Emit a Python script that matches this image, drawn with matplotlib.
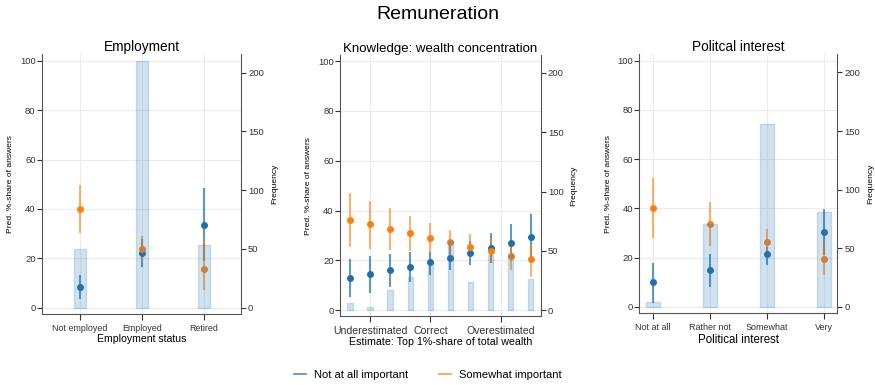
import matplotlib
matplotlib.use("Agg")
import matplotlib.pyplot as plt
from matplotlib.lines import Line2D
import numpy as np

plt.rcParams['font.family'] = ['Liberation Sans', 'DejaVu Sans']

BLUE = '#1f6fad'
ORANGE = '#ff7f0e'
BAR = '#2b7bba'

# --- Employment ---
emp_cats = ["Not employed", "Employed", "Retired"]
emp_freq = [50, 210, 53]
emp_blue = [8.4, 22.2, 33.6]
emp_blue_lo = [3.4, 16.4, 19.0]
emp_blue_hi = [13.2, 28.0, 48.6]
emp_orange = [40.1, 23.8, 15.8]
emp_orange_lo = [30.4, 18.8, 7.2]
emp_orange_hi = [49.9, 28.9, 28.1]

# --- Knowledge: wealth concentration ---
know_pos = [1, 2, 3, 4, 5, 6, 7, 8, 9, 10]
know_ticks = [2, 5, 8.5]
know_ticklabels = ["Underestimated", "Correct", "Overestimated"]
know_freq = [6.5, 3.1, 16.9, 27.8, 41.0, 58.4, 23.9, 46.9, 47.8, 26.7]
know_blue = [13.0, 14.5, 16.0, 17.4, 19.2, 21.1, 23.0, 25.0, 27.2, 29.5]
know_blue_lo = [5.4, 7.1, 9.3, 11.5, 14.0, 16.1, 18.2, 18.8, 20.0, 20.5]
know_blue_hi = [20.5, 21.6, 22.6, 23.5, 23.5, 26.5, 27.8, 30.9, 34.5, 38.6]
know_orange = [36.2, 34.6, 32.8, 30.9, 29.1, 27.4, 25.5, 23.8, 22.0, 20.4]
know_orange_lo = [25.5, 24.8, 24.4, 23.8, 23.1, 22.0, 20.8, 18.8, 16.1, 13.4]
know_orange_hi = [47.0, 44.0, 40.9, 38.0, 35.0, 32.4, 30.5, 28.9, 26.8, 26.8]

# --- Political interest ---
pol_cats = ["Not at all", "Rather not", "Somewhat", "Very"]
pol_freq = [3.7, 70.7, 155.8, 80.6]
pol_blue = [9.9, 14.9, 21.6, 30.3]
pol_blue_lo = [1.6, 8.1, 16.8, 21.0]
pol_blue_hi = [17.6, 21.4, 24.4, 39.6]
pol_orange = [40.0, 33.8, 26.5, 19.5]
pol_orange_lo = [27.8, 24.7, 21.7, 12.9]
pol_orange_hi = [52.5, 42.6, 31.5, 26.2]

fig = plt.figure(figsize=(8.75, 3.85), dpi=100)
fig.suptitle("Remuneration", fontsize=14, y=0.985)

SCALE = 2.1  # frequency units per percentage point


def panel(rect, x, freq, b, blo, bhi, o, olo, ohi, ylim, xlim, barw,
          title, xlabel, xticks, xticklabels, xtick_size, xlabel_size,
          title_size=9.8):
    ax = fig.add_axes(rect)
    ax.set_xlim(*xlim)
    ax.set_ylim(*ylim)
    ax.set_yticks([0, 20, 40, 60, 80, 100])
    ax.set_xticks(xticks)
    ax.set_xticklabels(xticklabels, fontsize=xtick_size)
    ax.tick_params(axis='y', labelsize=6.8, colors='#333333', length=3.6,
                   pad=1)
    ax.tick_params(axis='x', colors='#333333', length=4, pad=3)
    ax.grid(True, color='#ececec', linewidth=0.8)
    ax.set_axisbelow(True)
    for s in ['top', 'right']:
        ax.spines[s].set_visible(False)
    for s in ['left', 'bottom']:
        ax.spines[s].set_color('#555555')
    ax.set_ylabel("Pred. %-share of answers", fontsize=6.1, labelpad=4)
    ax.set_xlabel(xlabel, fontsize=xlabel_size, labelpad=1)
    ax.set_title(title, fontsize=title_size, pad=2)

    x = np.asarray(x, dtype=float)
    ax.vlines(x, blo, bhi, color=BLUE, lw=1.5, alpha=0.7, zorder=3)
    ax.plot(x, b, 'o', color=BLUE, ms=4, zorder=4)
    ax.vlines(x, olo, ohi, color=ORANGE, lw=1.5, alpha=0.6, zorder=3)
    ax.plot(x, o, 'o', color=ORANGE, ms=4, zorder=4)

    ax2 = ax.twinx()
    ax2.set_ylim(ylim[0] * SCALE, ylim[1] * SCALE)
    ax2.bar(x, freq, width=barw, color=BAR, alpha=0.22,
            edgecolor=(0.17, 0.48, 0.73, 0.35), linewidth=1)
    ax2.set_yticks([0, 50, 100, 150, 200])
    ax2.tick_params(axis='y', labelsize=6.8, colors='#333333', length=3.6,
                    pad=1.5)
    ax2.set_ylabel("Frequency", fontsize=6.1, labelpad=5)
    for s in ['top', 'left', 'bottom']:
        ax2.spines[s].set_visible(False)
    ax2.spines['right'].set_color('#555555')
    return ax


panel([0.048, 0.184, 0.2274, 0.676], [1, 2, 3], emp_freq,
      emp_blue, emp_blue_lo, emp_blue_hi,
      emp_orange, emp_orange_lo, emp_orange_hi,
      (-2.6, 102.8), (0.39, 3.6), 0.2,
      "Employment", "Employment status", [1, 2, 3], emp_cats, 6.4, 7.6)

panel([0.3886, 0.179, 0.2294, 0.678], know_pos, know_freq,
      know_blue, know_blue_lo, know_blue_hi,
      know_orange, know_orange_lo, know_orange_hi,
      (-2.3, 102.4), (0.5, 10.5), 0.27,
      "Knowledge: wealth concentration",
      "Estimate: Top 1%-share of total wealth",
      know_ticks, know_ticklabels, 7.6, 7.7, title_size=9.5)

panel([0.7306, 0.186, 0.2263, 0.674], [1, 2, 3, 4], pol_freq,
      pol_blue, pol_blue_lo, pol_blue_hi,
      pol_orange, pol_orange_lo, pol_orange_hi,
      (-2.7, 102.8), (0.76, 4.23), 0.25,
      "Politcal interest", "Political interest", [1, 2, 3, 4], pol_cats,
      6.5, 8.3)

handles = [Line2D([], [], color=BLUE, lw=1.2, alpha=0.8),
           Line2D([], [], color=ORANGE, lw=1.2, alpha=0.8)]
fig.legend(handles, ["Not at all important", "Somewhat important"],
           loc='center', bbox_to_anchor=(0.489, 0.027), ncol=2, frameon=False,
           fontsize=8, handlelength=1.05, handletextpad=0.75,
           columnspacing=2.8)

fig.savefig("out.png", dpi=100)
